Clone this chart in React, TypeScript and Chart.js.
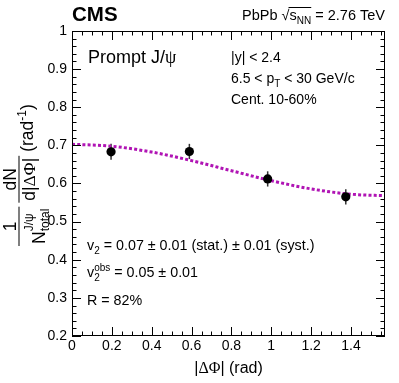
import React, { useEffect, useRef } from "react";
import { Chart, registerables } from "chart.js";

Chart.register(...registerables);

// ---- data ----
const DPHI = [0.196, 0.589, 0.982, 1.374];
const YIELD = [0.683, 0.684, 0.612, 0.565];
const YIELD_ERR = [0.021, 0.02, 0.02, 0.02];

const FIT_X = [0, 0.2, 0.4, 0.6, 0.8, 1.0, 1.2, 1.4, 1.5708];
const FIT_Y = [0.703, 0.6977, 0.6825, 0.66, 0.6335, 0.6074, 0.5858, 0.5719, 0.568];

const X_TICKS = [0, 0.2, 0.4, 0.6, 0.8, 1.0, 1.2, 1.4];
const X_TICK_LABELS = ["0", "0.2", "0.4", "0.6", "0.8", "1", "1.2", "1.4"];
const Y_TICKS = [0.2, 0.3, 0.4, 0.5, 0.6, 0.7, 0.8, 0.9, 1.0];
const Y_TICK_LABELS = ["0.2", "0.3", "0.4", "0.5", "0.6", "0.7", "0.8", "0.9", "1"];

const X_MIN = 0;
const X_MAX = 1.5708;
const Y_MIN = 0.2;
const Y_MAX = 1.0;
const X_MINOR_STEP = 0.05;
const Y_MINOR_STEP = 0.02;

const SANS = '"Liberation Sans", Arial, Helvetica, sans-serif';
const SERIF = '"Liberation Serif", "Times New Roman", serif';
const FIT_COLOR = "#b014b4";

type Seg = {
  t: string;
  size: number;
  bold?: boolean;
  serif?: boolean;
  dy?: number;
  stack?: { sup: string; sub: string; supDy: number; subDy: number };
};

function fontOf(s: { size: number; bold?: boolean; serif?: boolean }) {
  return `${s.bold ? "bold " : ""}${s.size}px ${s.serif ? SERIF : SANS}`;
}

function segWidth(ctx: CanvasRenderingContext2D, s: Seg) {
  ctx.font = fontOf(s);
  if (s.stack) {
    return Math.max(ctx.measureText(s.stack.sup).width, ctx.measureText(s.stack.sub).width);
  }
  return ctx.measureText(s.t).width;
}

function richWidth(ctx: CanvasRenderingContext2D, segs: Seg[]) {
  return segs.reduce((a, s) => a + segWidth(ctx, s), 0);
}

// draws rich text; returns array of x starts of each segment
function drawRich(
  ctx: CanvasRenderingContext2D,
  x: number,
  y: number,
  segs: Seg[],
  align: "left" | "right" | "center" = "left"
) {
  const w = richWidth(ctx, segs);
  let cx = align === "left" ? x : align === "right" ? x - w : x - w / 2;
  const starts: number[] = [];
  ctx.textAlign = "left";
  ctx.textBaseline = "alphabetic";
  ctx.fillStyle = "#000";
  for (const s of segs) {
    starts.push(cx);
    ctx.font = fontOf(s);
    if (s.stack) {
      ctx.fillText(s.stack.sup, cx, y + s.stack.supDy);
      ctx.fillText(s.stack.sub, cx, y + s.stack.subDy);
    } else {
      ctx.fillText(s.t, cx, y + (s.dy || 0));
    }
    cx += segWidth(ctx, s);
  }
  starts.push(cx);
  return starts;
}

const framePlugin = {
  id: "rootFrame",
  beforeDatasetsDraw(chart: any) {
    const { ctx, scales } = chart;
    const xs = scales.x;
    const ys = scales.y;
    ctx.save();
    ctx.strokeStyle = "#333";
    ctx.lineWidth = 1.5;
    for (let i = 0; i < DPHI.length; i++) {
      const px = xs.getPixelForValue(DPHI[i]);
      const y1 = ys.getPixelForValue(YIELD[i] - YIELD_ERR[i]);
      const y2 = ys.getPixelForValue(YIELD[i] + YIELD_ERR[i]);
      ctx.beginPath();
      ctx.moveTo(px, y1);
      ctx.lineTo(px, y2);
      ctx.stroke();
    }
    ctx.restore();
  },
  afterDatasetsDraw(chart: any) {
    const { ctx, chartArea, scales } = chart;
    const xs = scales.x;
    const ys = scales.y;
    const { left, right, top, bottom } = chartArea;
    ctx.save();
    ctx.strokeStyle = "#000";
    ctx.lineWidth = 1;
    ctx.strokeRect(left + 0.5, top + 0.5, right - left - 1, bottom - top - 1);
    const MAJ = 9;
    const MIN = 4.5;
    ctx.beginPath();
    // y ticks
    for (let v = Y_MIN; v <= Y_MAX + 1e-9; v += Y_MINOR_STEP) {
      const isMaj = Y_TICKS.some((t) => Math.abs(t - v) < 1e-6);
      const L = isMaj ? MAJ : MIN;
      const py = Math.round(ys.getPixelForValue(v)) + 0.5;
      ctx.moveTo(left, py);
      ctx.lineTo(left + L, py);
      ctx.moveTo(right, py);
      ctx.lineTo(right - L, py);
    }
    // x ticks
    for (let v = X_MIN; v <= X_MAX + 1e-9; v += X_MINOR_STEP) {
      const isMaj = X_TICKS.some((t) => Math.abs(t - v) < 1e-6);
      const L = isMaj ? MAJ : MIN;
      const px = Math.round(xs.getPixelForValue(v)) + 0.5;
      ctx.moveTo(px, bottom);
      ctx.lineTo(px, bottom - L);
      ctx.moveTo(px, top);
      ctx.lineTo(px, top + L);
    }
    ctx.stroke();
    ctx.restore();
  },
  afterDraw(chart: any) {
    const { ctx, chartArea } = chart;
    const { left, right } = chartArea;
    ctx.save();

    // CMS
    drawRich(ctx, left, 21, [{ t: "CMS", size: 20.5, bold: true }]);

    // Header
    const hs = 14.5;
    const st = drawRich(
      ctx,
      right,
      20,
      [
        { t: "PbPb ", size: hs },
        { t: "\u221A", size: hs },
        { t: "s", size: hs },
        { t: "NN", size: 10, dy: 4 },
        { t: " = 2.76 TeV", size: hs },
      ],
      "right"
    );
    ctx.strokeStyle = "#000";
    ctx.lineWidth = 1;
    ctx.beginPath();
    ctx.moveTo(st[2] - 1, 20 - 12.5);
    ctx.lineTo(st[4], 20 - 12.5);
    ctx.stroke();

    // Prompt J/psi
    drawRich(ctx, left + 16, 63, [
      { t: "Prompt J/", size: 18 },
      { t: "\u03C8", size: 18, serif: true },
    ]);

    // kinematic labels
    const ks = 14;
    const kx = 231;
    drawRich(ctx, kx, 62, [{ t: "|y| < 2.4", size: ks }]);
    drawRich(ctx, kx, 83, [
      { t: "6.5 < p", size: ks },
      { t: "T", size: 10, dy: 4 },
      { t: " < 30 GeV/c", size: ks },
    ]);
    drawRich(ctx, kx, 104, [{ t: "Cent. 10-60%", size: ks }]);

    // v2 results
    const vs = 14.3;
    const vx = left + 15;
    drawRich(ctx, vx, 250, [
      { t: "v", size: vs },
      { t: "2", size: 10, dy: 4 },
      { t: " = 0.07 \u00B1 0.01 (stat.) \u00B1 0.01 (syst.)", size: vs },
    ]);
    drawRich(ctx, vx, 277, [
      { t: "v", size: vs },
      { t: "", size: 10, stack: { sup: "obs", sub: "2", supDy: -6, subDy: 4 } },
      { t: " = 0.05 \u00B1 0.01", size: vs },
    ]);
    drawRich(ctx, vx, 305, [{ t: "R = 82%", size: vs }]);

    // x title
    drawRich(
      ctx,
      (left + right) / 2,
      373,
      [
        { t: "|", size: 16 },
        { t: "\u0394\u03A6", size: 16, serif: true },
        { t: "| (rad)", size: 16 },
      ],
      "center"
    );

    // y title (rotated)
    ctx.save();
    ctx.translate(19, 246);
    ctx.rotate(-Math.PI / 2);
    const ts = 17.5;
    const ss = 12;
    ctx.fillStyle = "#000";
    ctx.strokeStyle = "#000";
    ctx.lineWidth = 1;
    // fraction A: 1 / N^{J/psi}_{total}
    const denA: Seg[] = [
      { t: "N", size: ts, dy: 26 },
      { t: "", size: ss, stack: { sup: "J/\u03C8", sub: "total", supDy: 14, subDy: 30 } },
    ];
    const wDenA = richWidth(ctx, denA);
    ctx.font = fontOf({ size: ts });
    const w1 = ctx.measureText("1").width;
    const barA = Math.max(wDenA, w1) + 4;
    let u = 0;
    ctx.fillRect(u, -0.5, barA, 1);
    drawRich(ctx, u + barA / 2, -3, [{ t: "1", size: ts }], "center");
    drawRich(ctx, u + barA / 2, 0, denA, "center");
    u += barA + 4;
    // fraction B: dN / d|dPhi|
    const numB: Seg[] = [{ t: "dN", size: ts }];
    const denB: Seg[] = [
      { t: "d|", size: ts },
      { t: "\u0394\u03A6", size: ts, serif: true },
      { t: "|", size: ts },
    ];
    const barB = Math.max(richWidth(ctx, numB), richWidth(ctx, denB)) + 4;
    ctx.fillRect(u, -0.5, barB, 1);
    drawRich(ctx, u + barB / 2, -3, numB, "center");
    drawRich(ctx, u + barB / 2, 16, denB, "center");
    u += barB + 4;
    // (rad^-1)
    drawRich(ctx, u, 14, [
      { t: "(rad", size: ts },
      { t: "-1", size: ss, dy: -7 },
      { t: ")", size: ts },
    ]);
    ctx.restore();

    ctx.restore();
  },
};

export default function App() {
  const ref = useRef<HTMLCanvasElement | null>(null);

  useEffect(() => {
    if (!ref.current) return;
    const chart = new Chart(ref.current, {
      type: "scatter",
      data: {
        datasets: [
          {
            type: "scatter",
            label: "data",
            data: DPHI.map((x, i) => ({ x, y: YIELD[i] })),
            pointRadius: 4.6,
            pointBackgroundColor: "#000",
            pointBorderWidth: 0,
            showLine: false,
            order: 0,
          } as any,
          {
            type: "line",
            label: "fit",
            data: FIT_X.map((x, i) => ({ x, y: FIT_Y[i] })),
            borderColor: FIT_COLOR,
            borderWidth: 3,
            borderDash: [3, 2.2],
            borderCapStyle: "butt",
            pointRadius: 0,
            tension: 0.4,
            cubicInterpolationMode: "monotone",
            fill: false,
            order: 1,
          } as any,
        ],
      },
      options: {
        animation: false,
        responsive: false,
        maintainAspectRatio: false,
        layout: { padding: { top: 31, right: 14, left: 0, bottom: 0 } },
        plugins: {
          legend: { display: false },
          tooltip: { enabled: false },
          title: { display: false },
        },
        scales: {
          x: {
            type: "linear",
            min: X_MIN,
            max: X_MAX,
            afterBuildTicks: (s: any) => {
              s.ticks = X_TICKS.map((v) => ({ value: v }));
            },
            afterFit: (s: any) => {
              s.height = 47;
            },
            ticks: {
              autoSkip: false,
              maxRotation: 0,
              padding: 2,
              color: "#000",
              font: { family: SANS, size: 14 },
              callback: (_v: any, i: number) => X_TICK_LABELS[i],
            },
            grid: { display: false, drawTicks: false },
            border: { display: false },
          },
          y: {
            type: "linear",
            min: Y_MIN,
            max: Y_MAX,
            afterBuildTicks: (s: any) => {
              s.ticks = Y_TICKS.map((v) => ({ value: v }));
            },
            afterFit: (s: any) => {
              s.width = 72;
            },
            ticks: {
              autoSkip: false,
              padding: 5,
              color: "#000",
              font: { family: SANS, size: 14 },
              callback: (_v: any, i: number) => Y_TICK_LABELS[i],
            },
            grid: { display: false, drawTicks: false },
            border: { display: false },
          },
        },
      } as any,
      plugins: [framePlugin],
    });
    return () => chart.destroy();
  }, []);

  return (
    <div style={{ position: "absolute", left: 0, top: 0, width: 399, height: 383, background: "#fff" }}>
      <canvas ref={ref} width={399} height={383} style={{ display: "block" }} />
    </div>
  );
}
